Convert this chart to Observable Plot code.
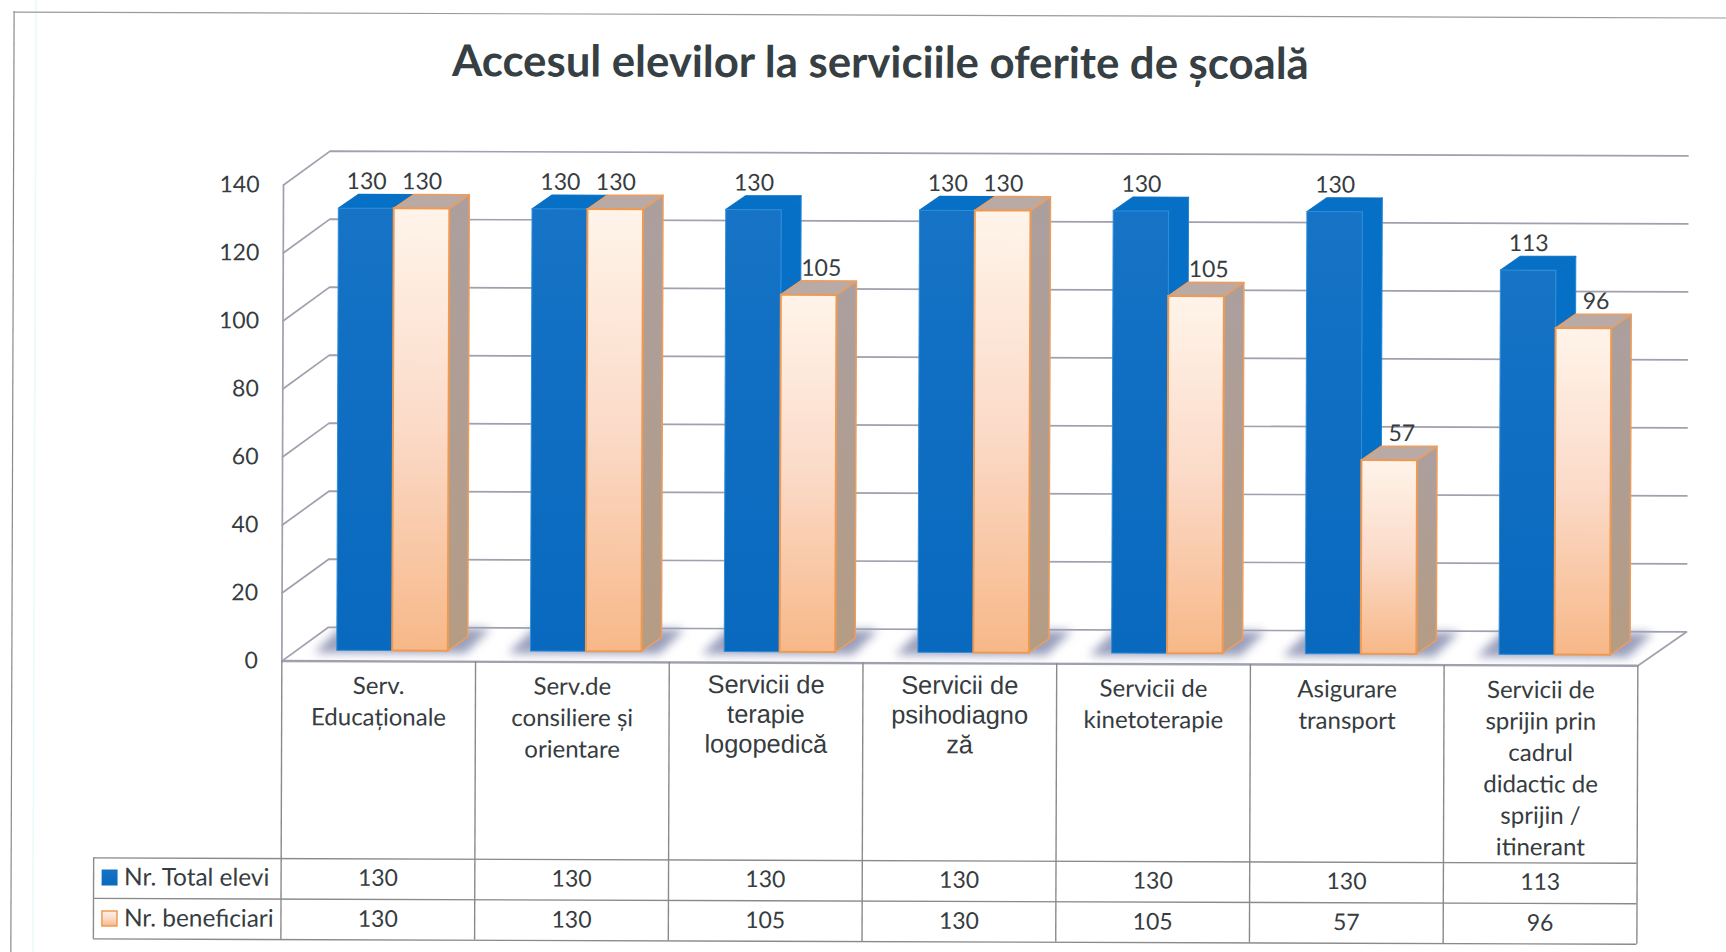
<!DOCTYPE html>
<html lang="ro">
<head>
<meta charset="utf-8">
<script src="https://cdn.jsdelivr.net/npm/d3@7"></script>
<script src="https://cdn.jsdelivr.net/npm/@observablehq/plot@0.6"></script>
<style>
html,body{margin:0;padding:0;background:#fff;overflow:hidden;width:1726px;height:952px}
#chart svg{display:block;transform:rotate(0.2deg);background:#fff;overflow:visible}
</style>
</head>
<body>
<div id="chart"></div>
<script>
const titleText = "Accesul elevilor la serviciile oferite de școală";
const categories = [
  "Serv.\nEducaționale",
  "Serv.de\nconsiliere și\norientare",
  "Servicii de\nterapie\nlogopedică",
  "Servicii de\npsihodiagno\nză",
  "Servicii de\nkinetoterapie",
  "Asigurare\ntransport",
  "Servicii de\nsprijin prin\ncadrul\ndidactic de\nsprijin /\nitinerant"
];
const arialCategories = [2, 3];
const totalElevi = [130, 130, 130, 130, 130, 130, 113];
const beneficiari = [130, 130, 105, 130, 105, 57, 96];
const seriesNames = ["Nr. Total elevi", "Nr. beneficiari"];
const yTicks = [0, 20, 40, 60, 80, 100, 120, 140];

// layout
const W = 1726, H = 952, mL = 282, mR = 88, mT = 186.5, mB = 289.4;
const unitX = (W - mL - mR) / categories.length, unitY = (H - mT - mB) / 140;
const xAt = px => (px - mL) / unitX;
const yAt = px => (H - mB - px) / unitY;     // absolute pixel to y value
const below = px => -px / unitY;             // pixels below the zero line
const wallX = 0.24, wallY = 10;
const barDX = 0.103, barDY = 4.1, barLift = -10.5;
const bx = [0.286, 0.572, 0.859];
const font = "Lato, Carlito, sans-serif", arial = "'Liberation Sans', Arial, sans-serif";
const ink = "#363c40", gridC = "#a0a0ae", tableC = "#8a8a8a";

const bars = [];
categories.forEach((c, i) => {
  bars.push({i, s: 0, v: totalElevi[i], x1: i + bx[0], x2: i + bx[1]});
  bars.push({i, s: 1, v: beneficiari[i], x1: i + bx[1], x2: i + bx[2]});
});
const blue = bars.filter(d => d.s === 0), orange = bars.filter(d => d.s === 1);
const sideOf = rows => rows.flatMap(d => [
  {id: d.i, x: d.x2, y1: 0, y2: d.v},
  {id: d.i, x: d.x2 + barDX, y1: barDY, y2: d.v + barDY}
]);
const topOf = rows => rows.flatMap(d => [
  {id: d.i, x1: d.x1, x2: d.x2, y: d.v},
  {id: d.i, x1: d.x1 + barDX, x2: d.x2 + barDX, y: d.v + barDY}
]);
const shadows = categories.flatMap((c, i) => [
  {id: i, x1: i + 0.17, x2: i + 0.95, y: -0.8},
  {id: i, x1: i + 0.30, x2: i + 1.08, y: 6.5}
]);
const gridRows = yTicks.flatMap(t => [
  {t, x: 0, y: t}, {t, x: wallX, y: t + wallY}, {t, x: categories.length + 0.25, y: t + wallY}
]);
const n = categories.length;
const rowTop = below(197.5), rowMid = below(238), rowBot = below(278.5);
const row1 = below(217), row2 = below(258);
const cols = d3.range(n + 1);
const centers = d3.range(n);
const legendX = xAt(110.5), legendTextX = xAt(125);
const lowerOrange = orange.filter(d => d.v < totalElevi[d.i]);
const fullOrange = orange.filter(d => d.v >= totalElevi[d.i]);

function defs() {
  const g = document.createElementNS("http://www.w3.org/2000/svg", "defs");
  g.innerHTML = `
  <linearGradient id="gOrange" x1="0" y1="0" x2="0" y2="1">
    <stop offset="0" stop-color="#fff4ea"/><stop offset="0.5" stop-color="#fbdac8"/><stop offset="1" stop-color="#f7b888"/>
  </linearGradient>
  <linearGradient id="gSide" x1="0" y1="0" x2="0" y2="1">
    <stop offset="0" stop-color="#ab9f9f"/><stop offset="1" stop-color="#b59c84"/>
  </linearGradient>
  <linearGradient id="gBlue" x1="0" y1="0" x2="0" y2="1">
    <stop offset="0" stop-color="#1673c6"/><stop offset="1" stop-color="#0869be"/>
  </linearGradient>`;
  return g;
}

const text = (data, o) => Plot.text(data, {fontFamily: font, fontSize: 23, fill: ink, ...o});

const plot = Plot.plot({
  width: W, height: H,
  marginLeft: mL, marginRight: mR, marginTop: mT, marginBottom: mB,
  x: {domain: [0, n], axis: null},
  y: {domain: [0, 140], axis: null},
  style: {background: "#fff", fontFamily: font},
  marks: [
    defs,
    // page frame of the scan
    Plot.ruleX([xAt(12)], {y1: yAt(14), y2: yAt(960), stroke: "#8a8a8a", strokeWidth: 1.2}),
    Plot.ruleX([xAt(34)], {y1: yAt(0), y2: yAt(960), stroke: "#e6fbfb", strokeWidth: 1.5}),
    Plot.ruleY([yAt(14.5)], {x1: xAt(12), x2: xAt(1740), stroke: "#9a9a9a", strokeWidth: 1.2}),
    // title
    text([titleText], {x: xAt(878.5), y: yAt(63), text: d => d, fontSize: 43.7, fontWeight: 700, fill: "#363f44"}),
    // walls and floor
    Plot.line(gridRows, {x: "x", y: "y", z: "t", stroke: gridC, strokeWidth: 1.7}),
    Plot.line([{x: n, y: 0}, {x: n + 0.25, y: wallY}], {x: "x", y: "y", stroke: gridC, strokeWidth: 1.7}),
    Plot.ruleX([0], {y1: 0, y2: 140, stroke: gridC, strokeWidth: 1.7}),
    Plot.ruleY([0], {x1: 0, x2: n, stroke: gridC, strokeWidth: 2.4}),
    Plot.axisY(yTicks, {tickSize: 0, tickPadding: 24, fontSize: 23, fontFamily: font, fill: ink, label: null, tickFormat: d => d}),
    // shadows
    Plot.area(shadows, {x1: "x1", x2: "x2", y1: "y", y2: "y", z: "id", fill: "#9a9fbc", dy: barLift, imageFilter: "blur(5px)"}),
    // blue bars
    Plot.area(sideOf(blue), {x1: "x", x2: "x", y1: "y1", y2: "y2", z: "id", fill: "#0570c6", stroke: "#1f86d8", strokeWidth: 1, dy: barLift}),
    Plot.area(topOf(blue), {x1: "x1", x2: "x2", y1: "y", y2: "y", z: "id", fill: "#0570c6", stroke: "#0570c6", strokeWidth: 1, dy: barLift}),
    Plot.rect(blue, {x1: "x1", x2: "x2", y1: 0, y2: "v", fill: "url(#gBlue)", stroke: "#2f8ed8", strokeWidth: 1, dy: barLift}),
    // orange bars
    Plot.area(sideOf(orange), {x1: "x", x2: "x", y1: "y1", y2: "y2", z: "id", fill: "url(#gSide)", stroke: "#ee9d5c", strokeWidth: 1.5, dy: barLift}),
    Plot.area(topOf(orange), {x1: "x1", x2: "x2", y1: "y", y2: "y", z: "id", fill: "#b9aaa6", stroke: "#ee9d5c", strokeWidth: 1.5, dy: barLift}),
    Plot.rect(orange, {x1: "x1", x2: "x2", y1: 0, y2: "v", fill: "url(#gOrange)", stroke: "#ef9a52", strokeWidth: 2, dy: barLift}),
    // value labels
    text(blue, {x: d => (d.x1 + d.x2) / 2, y: "v", text: "v", dy: barLift - 27}),
    text(fullOrange, {x: d => (d.x1 + d.x2) / 2, y: "v", text: "v", dy: barLift - 27}),
    text(lowerOrange, {x: d => (d.x1 + d.x2) / 2, y: "v", text: "v", dy: barLift - 27, dx: 12}),
    // table
    Plot.ruleY([rowTop, rowMid, rowBot], {x1: xAt(94.5), x2: n, stroke: tableC, strokeWidth: 1.4}),
    Plot.ruleX(cols, {y1: 0, y2: rowBot, stroke: tableC, strokeWidth: 1.4}),
    Plot.ruleX([xAt(94.5)], {y1: rowTop, y2: rowBot, stroke: tableC, strokeWidth: 1.4}),
    text(centers.filter(i => !arialCategories.includes(i)), {x: i => i + 0.5, y: below(10.3), text: i => categories[i],
      fontSize: 24, lineHeight: 1.31, lineAnchor: "top"}),
    text(arialCategories, {x: i => i + 0.5, y: below(9.3), text: i => categories[i],
      fontFamily: arial, fontSize: 25.4, lineHeight: 1.17, lineAnchor: "top"}),
    text(centers, {x: i => i + 0.5, y: row1, text: i => totalElevi[i], lineAnchor: "middle"}),
    text(centers, {x: i => i + 0.5, y: row2, text: i => beneficiari[i], lineAnchor: "middle"}),
    // legend keys
    Plot.dot([row1], {x: legendX, y: d => d, symbol: "square", r: 9, fill: "url(#gBlue)"}),
    Plot.dot([row2], {x: legendX, y: d => d, symbol: "square", r: 8.5, fill: "url(#gOrange)", stroke: "#ef9a52", strokeWidth: 1.5}),
    text([seriesNames[0]], {x: legendTextX, y: row1, text: d => d, textAnchor: "start", fontSize: 24.4}),
    text([seriesNames[1]], {x: legendTextX, y: row2, text: d => d, textAnchor: "start", fontSize: 24.4})
  ]
});
document.getElementById("chart").appendChild(plot);
</script>
</body>
</html>
